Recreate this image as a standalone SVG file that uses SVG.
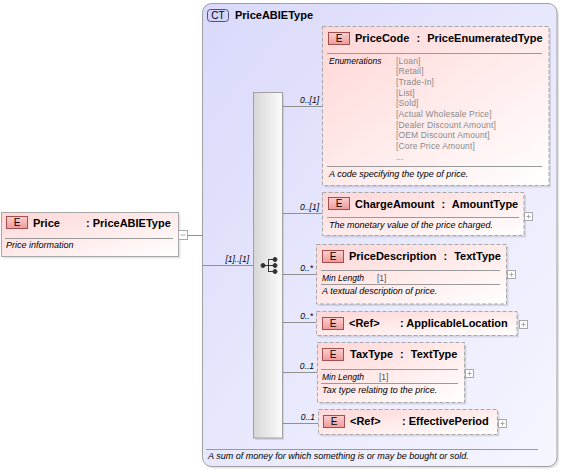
<svg xmlns="http://www.w3.org/2000/svg" width="561" height="471" viewBox="0 0 561 471">
<defs>
<linearGradient id="ctg" x1="0" y1="0" x2="1" y2="1"><stop offset="0" stop-color="#d9d9fb"/><stop offset="1" stop-color="#f6f6ff"/></linearGradient>
<linearGradient id="elg" x1="0" y1="0" x2="1" y2="1"><stop offset="0" stop-color="#ffd6d6"/><stop offset="1" stop-color="#ffffff"/></linearGradient>
<linearGradient id="bdg" x1="0" y1="0" x2="0" y2="1"><stop offset="0" stop-color="#fbd0d0"/><stop offset="1" stop-color="#ef9a9a"/></linearGradient>
<linearGradient id="sqg" x1="0" y1="0" x2="1" y2="0"><stop offset="0" stop-color="#d6d6d6"/><stop offset="1" stop-color="#fbfbfb"/></linearGradient>
<style>
text{font-family:"Liberation Sans",Arial,sans-serif;fill:#000}
.t{font-size:11px;font-weight:bold}
.w{word-spacing:4px}
.d{font-size:9px;font-style:italic}
.m{font-size:8.5px;font-style:italic}
.en{font-size:8.5px;fill:#8a8a8a;letter-spacing:0.15px}
.v{font-size:8.5px;fill:#555}
.bt{font-size:10px;text-anchor:middle}
.el{fill:url(#elg);stroke:#a8a8a8;stroke-dasharray:4 2}
.sh{fill:#000;opacity:0.1}
.bd{fill:url(#bdg);stroke:#a05050}
.sep{stroke:#9a9a9a}
.pl{fill:#fff;stroke:#a8a8a8}
.pls{stroke:#a8a8a8}
.cn{stroke:#909090;fill:none}
</style>
</defs>

<g id="PriceABIEType">
<rect x="204.5" y="5.5" width="354.5" height="463" rx="9" class="sh"/>
<rect x="202.5" y="3.5" width="354.5" height="463" rx="9" fill="url(#ctg)" stroke="#a0a0a0"/>
<rect x="207.5" y="9.5" width="21" height="12" rx="3" fill="#d4d4fa" stroke="#50508a"/>
<text x="218" y="19" class="bt">CT</text>
<text x="235" y="19" class="t">PriceABIEType</text>
<line x1="206" y1="449.5" x2="538" y2="449.5" class="sep"/>
<text x="208" y="459" class="d">A sum of money for which something is or may be bought or sold.</text>
</g>

<g id="connectors">
<line x1="188" y1="235.5" x2="203" y2="235.5" class="cn"/>
<line x1="203" y1="265.5" x2="253" y2="265.5" class="cn"/>
<text x="249" y="262" class="m" text-anchor="end">[1]..[1]</text>
<line x1="282" y1="106.5" x2="322" y2="106.5" class="cn"/>
<text x="319" y="103" class="m" text-anchor="end">0..[1]</text>
<line x1="282" y1="213.5" x2="322" y2="213.5" class="cn"/>
<text x="319" y="210" class="m" text-anchor="end">0..[1]</text>
<line x1="282" y1="274.5" x2="316" y2="274.5" class="cn"/>
<text x="313" y="271" class="m" text-anchor="end">0..*</text>
<line x1="282" y1="322.5" x2="316" y2="322.5" class="cn"/>
<text x="313" y="319" class="m" text-anchor="end">0..*</text>
<line x1="282" y1="372.5" x2="317" y2="372.5" class="cn"/>
<text x="314" y="369" class="m" text-anchor="end">0..1</text>
<line x1="282" y1="423.5" x2="318" y2="423.5" class="cn"/>
<text x="315" y="420" class="m" text-anchor="end">0..1</text>
</g>

<g id="sequence">
<rect x="255" y="94" width="29" height="346" class="sh"/>
<rect x="253.5" y="92.5" width="29" height="345.5" fill="url(#sqg)" stroke="#a0a0a0"/>
<g stroke="#333" fill="#333">
<line x1="263" y1="265.5" x2="269" y2="265.5"/>
<line x1="268.5" y1="259" x2="268.5" y2="272"/>
<line x1="268.5" y1="259.5" x2="275" y2="259.5"/>
<line x1="268.5" y1="271.5" x2="275" y2="271.5"/>
<line x1="268.5" y1="265.5" x2="275" y2="265.5"/>
<circle cx="263" cy="265.5" r="2"/>
<circle cx="275" cy="259.5" r="2"/>
<circle cx="275" cy="265.5" r="2"/>
<circle cx="275" cy="271.5" r="2"/>
</g>
</g>

<g id="Price">
<rect x="3.5" y="214.5" width="177" height="44" class="sh"/>
<rect x="1.5" y="212.5" width="177" height="44" fill="url(#elg)" stroke="#a8a8a8"/>
<rect x="6.5" y="216.5" width="21" height="12" class="bd"/>
<text x="17" y="226" class="bt">E</text>
<text x="33" y="227" class="t">Price</text>
<text x="86" y="227" class="t">: PriceABIEType</text>
<line x1="5" y1="238.5" x2="173" y2="238.5" class="sep"/>
<text x="6" y="248" class="d">Price information</text>
<rect x="178.5" y="230.5" width="9" height="9" class="pl"/>
<line x1="180.5" y1="235" x2="185.5" y2="235" class="pls"/>
</g>

<g id="PriceCode">
<rect x="324.5" y="28.5" width="226.5" height="159" class="sh"/>
<rect x="322.5" y="26.5" width="226.5" height="159" class="el"/>
<rect x="328.5" y="32.5" width="21" height="12" class="bd"/>
<text x="339" y="42" class="bt">E</text>
<text x="355" y="42" class="t w">PriceCode : PriceEnumeratedType</text>
<line x1="327" y1="53.5" x2="542" y2="53.5" class="sep"/>
<text x="329" y="63.5" class="m">Enumerations</text>
<text x="396" y="63.5" class="en">[Loan]</text>
<text x="396" y="74.2" class="en">[Retail]</text>
<text x="396" y="84.9" class="en">[Trade-In]</text>
<text x="396" y="95.6" class="en">[List]</text>
<text x="396" y="106.3" class="en">[Sold]</text>
<text x="396" y="117" class="en">[Actual Wholesale Price]</text>
<text x="396" y="127.7" class="en">[Dealer Discount Amount]</text>
<text x="396" y="138.4" class="en">[OEM Discount Amount]</text>
<text x="396" y="149.1" class="en">[Core Price Amount]</text>
<text x="396" y="159.8" class="en">...</text>
<line x1="327" y1="166.5" x2="542" y2="166.5" class="sep"/>
<text x="329" y="177" class="d">A code specifying the type of price.</text>
</g>

<g id="ChargeAmount">
<rect x="324.5" y="194.5" width="201.5" height="43" class="sh"/>
<rect x="322.5" y="192.5" width="201.5" height="43" class="el"/>
<rect x="328.5" y="197.5" width="21" height="12" class="bd"/>
<text x="339" y="207" class="bt">E</text>
<text x="355" y="207.5" class="t w">ChargeAmount : AmountType</text>
<line x1="327" y1="217.5" x2="519" y2="217.5" class="sep"/>
<text x="329" y="228" class="d">The monetary value of the price charged.</text>
<rect x="524.5" y="212.5" width="8" height="8" class="pl"/>
<path d="M526.5 216.5h4M528.5 214.5v4" class="pls"/>
</g>

<g id="PriceDescription">
<rect x="318.5" y="246.5" width="190" height="59.5" class="sh"/>
<rect x="316.5" y="244.5" width="190" height="59.5" class="el"/>
<rect x="322.5" y="250.5" width="21" height="12" class="bd"/>
<text x="333" y="260" class="bt">E</text>
<text x="349" y="259.5" class="t w">PriceDescription : TextType</text>
<line x1="321" y1="270.5" x2="500" y2="270.5" class="sep"/>
<text x="322" y="280.5" class="m">Min Length</text>
<text x="377" y="280.5" class="v">[1]</text>
<line x1="321" y1="284.5" x2="500" y2="284.5" class="sep"/>
<text x="322" y="294" class="d">A textual description of price.</text>
<rect x="507.5" y="270.5" width="8" height="8" class="pl"/>
<path d="M509.5 274.5h4M511.5 272.5v4" class="pls"/>
</g>

<g id="ApplicableLocation">
<rect x="318.5" y="313.5" width="200.5" height="24" class="sh"/>
<rect x="316.5" y="311.5" width="200.5" height="24" class="el"/>
<rect x="322.5" y="317.5" width="21" height="12" class="bd"/>
<text x="333" y="327" class="bt">E</text>
<text x="349" y="327" class="t">&lt;Ref&gt;</text>
<text x="400" y="327" class="t">: ApplicableLocation</text>
<rect x="519.5" y="320.5" width="8" height="8" class="pl"/>
<path d="M521.5 324.5h4M523.5 322.5v4" class="pls"/>
</g>

<g id="TaxType">
<rect x="319.5" y="344.5" width="147" height="60" class="sh"/>
<rect x="317.5" y="342.5" width="147" height="60" class="el"/>
<rect x="322.5" y="348.5" width="21" height="12" class="bd"/>
<text x="333" y="358" class="bt">E</text>
<text x="350" y="358" class="t w">TaxType : TextType</text>
<line x1="321" y1="369.5" x2="458" y2="369.5" class="sep"/>
<text x="322" y="379.5" class="m">Min Length</text>
<text x="379" y="379.5" class="v">[1]</text>
<line x1="321" y1="383.5" x2="458" y2="383.5" class="sep"/>
<text x="322" y="393" class="d">Tax type relating to the price.</text>
<rect x="465.5" y="369.5" width="8" height="8" class="pl"/>
<path d="M467.5 373.5h4M469.5 371.5v4" class="pls"/>
</g>

<g id="EffectivePeriod">
<rect x="320.5" y="411.5" width="179" height="25" class="sh"/>
<rect x="318.5" y="409.5" width="179" height="25" class="el"/>
<rect x="323.5" y="415.5" width="21" height="12" class="bd"/>
<text x="334" y="425" class="bt">E</text>
<text x="350" y="425" class="t">&lt;Ref&gt;</text>
<text x="402" y="425" class="t">: EffectivePeriod</text>
<rect x="498.5" y="419.5" width="8" height="8" class="pl"/>
<path d="M500.5 423.5h4M502.5 421.5v4" class="pls"/>
</g>
</svg>
